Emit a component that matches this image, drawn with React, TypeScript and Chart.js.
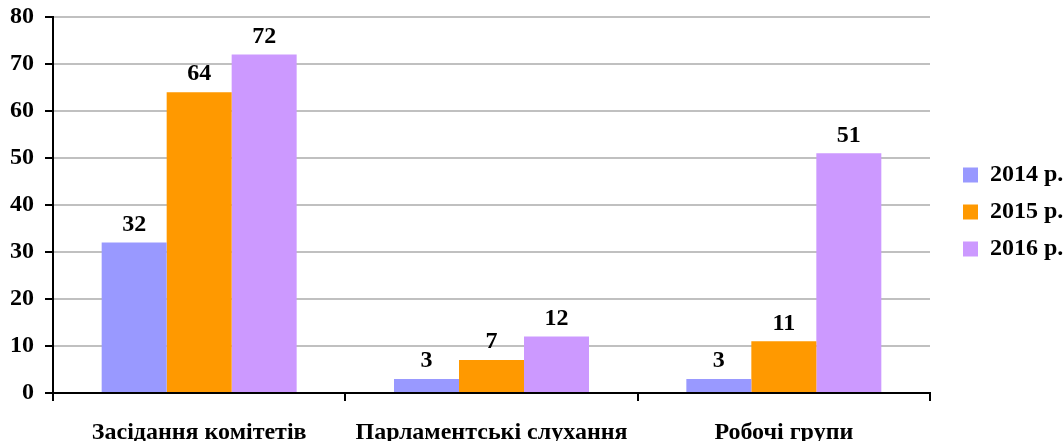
import React, { useEffect, useRef } from "react";
import { Chart, registerables } from "chart.js";

Chart.register(...registerables);

const categories = ["Засідання комітетів", "Парламентські слухання", "Робочі групи"];
const seriesLabels = ["2014 р.", "2015 р.", "2016 р."];
const values2014 = [32, 3, 3];
const values2015 = [64, 7, 11];
const values2016 = [72, 12, 51];
const seriesColors = ["#9999FF", "#FF9900", "#CC99FF"];
const yTicks = [0, 10, 20, 30, 40, 50, 60, 70, 80];

const FONT = "'Liberation Serif', 'Times New Roman', serif";

const dataLabels = {
  id: "dataLabels",
  afterDatasetsDraw(chart: any) {
    const ctx = chart.ctx;
    ctx.save();
    ctx.font = `bold 24px ${FONT}`;
    ctx.fillStyle = "#000";
    ctx.textAlign = "center";
    ctx.textBaseline = "bottom";
    chart.data.datasets.forEach((ds: any, i: number) => {
      const meta = chart.getDatasetMeta(i);
      meta.data.forEach((bar: any, j: number) => {
        ctx.fillText(String(ds.data[j]), bar.x, bar.y - 6);
      });
    });
    ctx.restore();
  },
};

const legendShift = {
  id: "legendShift",
  afterInit(chart: any) {
    const l = chart.legend;
    if (!l) return;
    const origFit = l.fit;
    l.fit = function () {
      origFit.call(this);
      this.width = 134;
    };
    const origDraw = l.draw;
    l.draw = function () {
      const ctx = this.ctx;
      ctx.save();
      ctx.translate(20, -17);
      origDraw.call(this);
      ctx.restore();
    };
  },
};

export default function App() {
  const ref = useRef<HTMLCanvasElement | null>(null);
  useEffect(() => {
    if (!ref.current) return;
    const datasets = [values2014, values2015, values2016].map((d, i) => ({
      label: seriesLabels[i],
      data: d,
      backgroundColor: seriesColors[i],
      borderWidth: 0,
      categoryPercentage: 0.667,
      barPercentage: 1,
    }));
    const chart = new Chart(ref.current, {
      type: "bar",
      data: { labels: categories, datasets },
      options: {
        animation: false,
        responsive: false,
        maintainAspectRatio: false,
        layout: { padding: { top: 17, right: 0, left: 0, bottom: 0 } },
        plugins: {
          tooltip: { enabled: false },
          legend: {
            position: "right",
            labels: {
              boxWidth: 15,
              boxHeight: 15,
              padding: 13,
              color: "#000",
              font: { family: FONT, size: 24, weight: "bold" },
            },
          },
        },
        scales: {
          x: {
            offset: true,
            grid: {
              offset: true,
              drawOnChartArea: false,
              drawTicks: true,
              tickLength: 8,
              color: "#000",
              lineWidth: 2,
            },
            border: { display: true, color: "#000", width: 2 },
            ticks: {
              color: "#000",
              padding: 17,
              font: { family: FONT, size: 24, weight: "bold" },
              maxRotation: 0,
            },
            afterFit(scale: any) {
              scale.height = 48;
              scale.paddingLeft = 0;
              scale.paddingRight = 0;
            },
          },
          y: {
            min: 0,
            max: 80,
            afterBuildTicks(scale: any) {
              scale.ticks = yTicks.map((v) => ({ value: v }));
            },
            grid: {
              color: "#C0C0C0",
              lineWidth: 2,
              drawTicks: true,
              tickLength: 8,
              tickColor: "#000",
            },
            border: { display: true, color: "#000", width: 2 },
            ticks: {
              color: "#000",
              padding: 11,
              font: { family: FONT, size: 24, weight: "bold" },
            },
            afterFit(scale: any) {
              scale.width = 53;
              scale.paddingTop = 0;
              scale.paddingBottom = 0;
            },
          },
        },
      },
      plugins: [dataLabels, legendShift],
    });
    return () => chart.destroy();
  }, []);
  return (
    <div style={{ position: "absolute", left: 0, top: 0, width: 1064, height: 441 }}>
      <canvas ref={ref} width={1064} height={441} style={{ width: 1064, height: 441 }} />
    </div>
  );
}
